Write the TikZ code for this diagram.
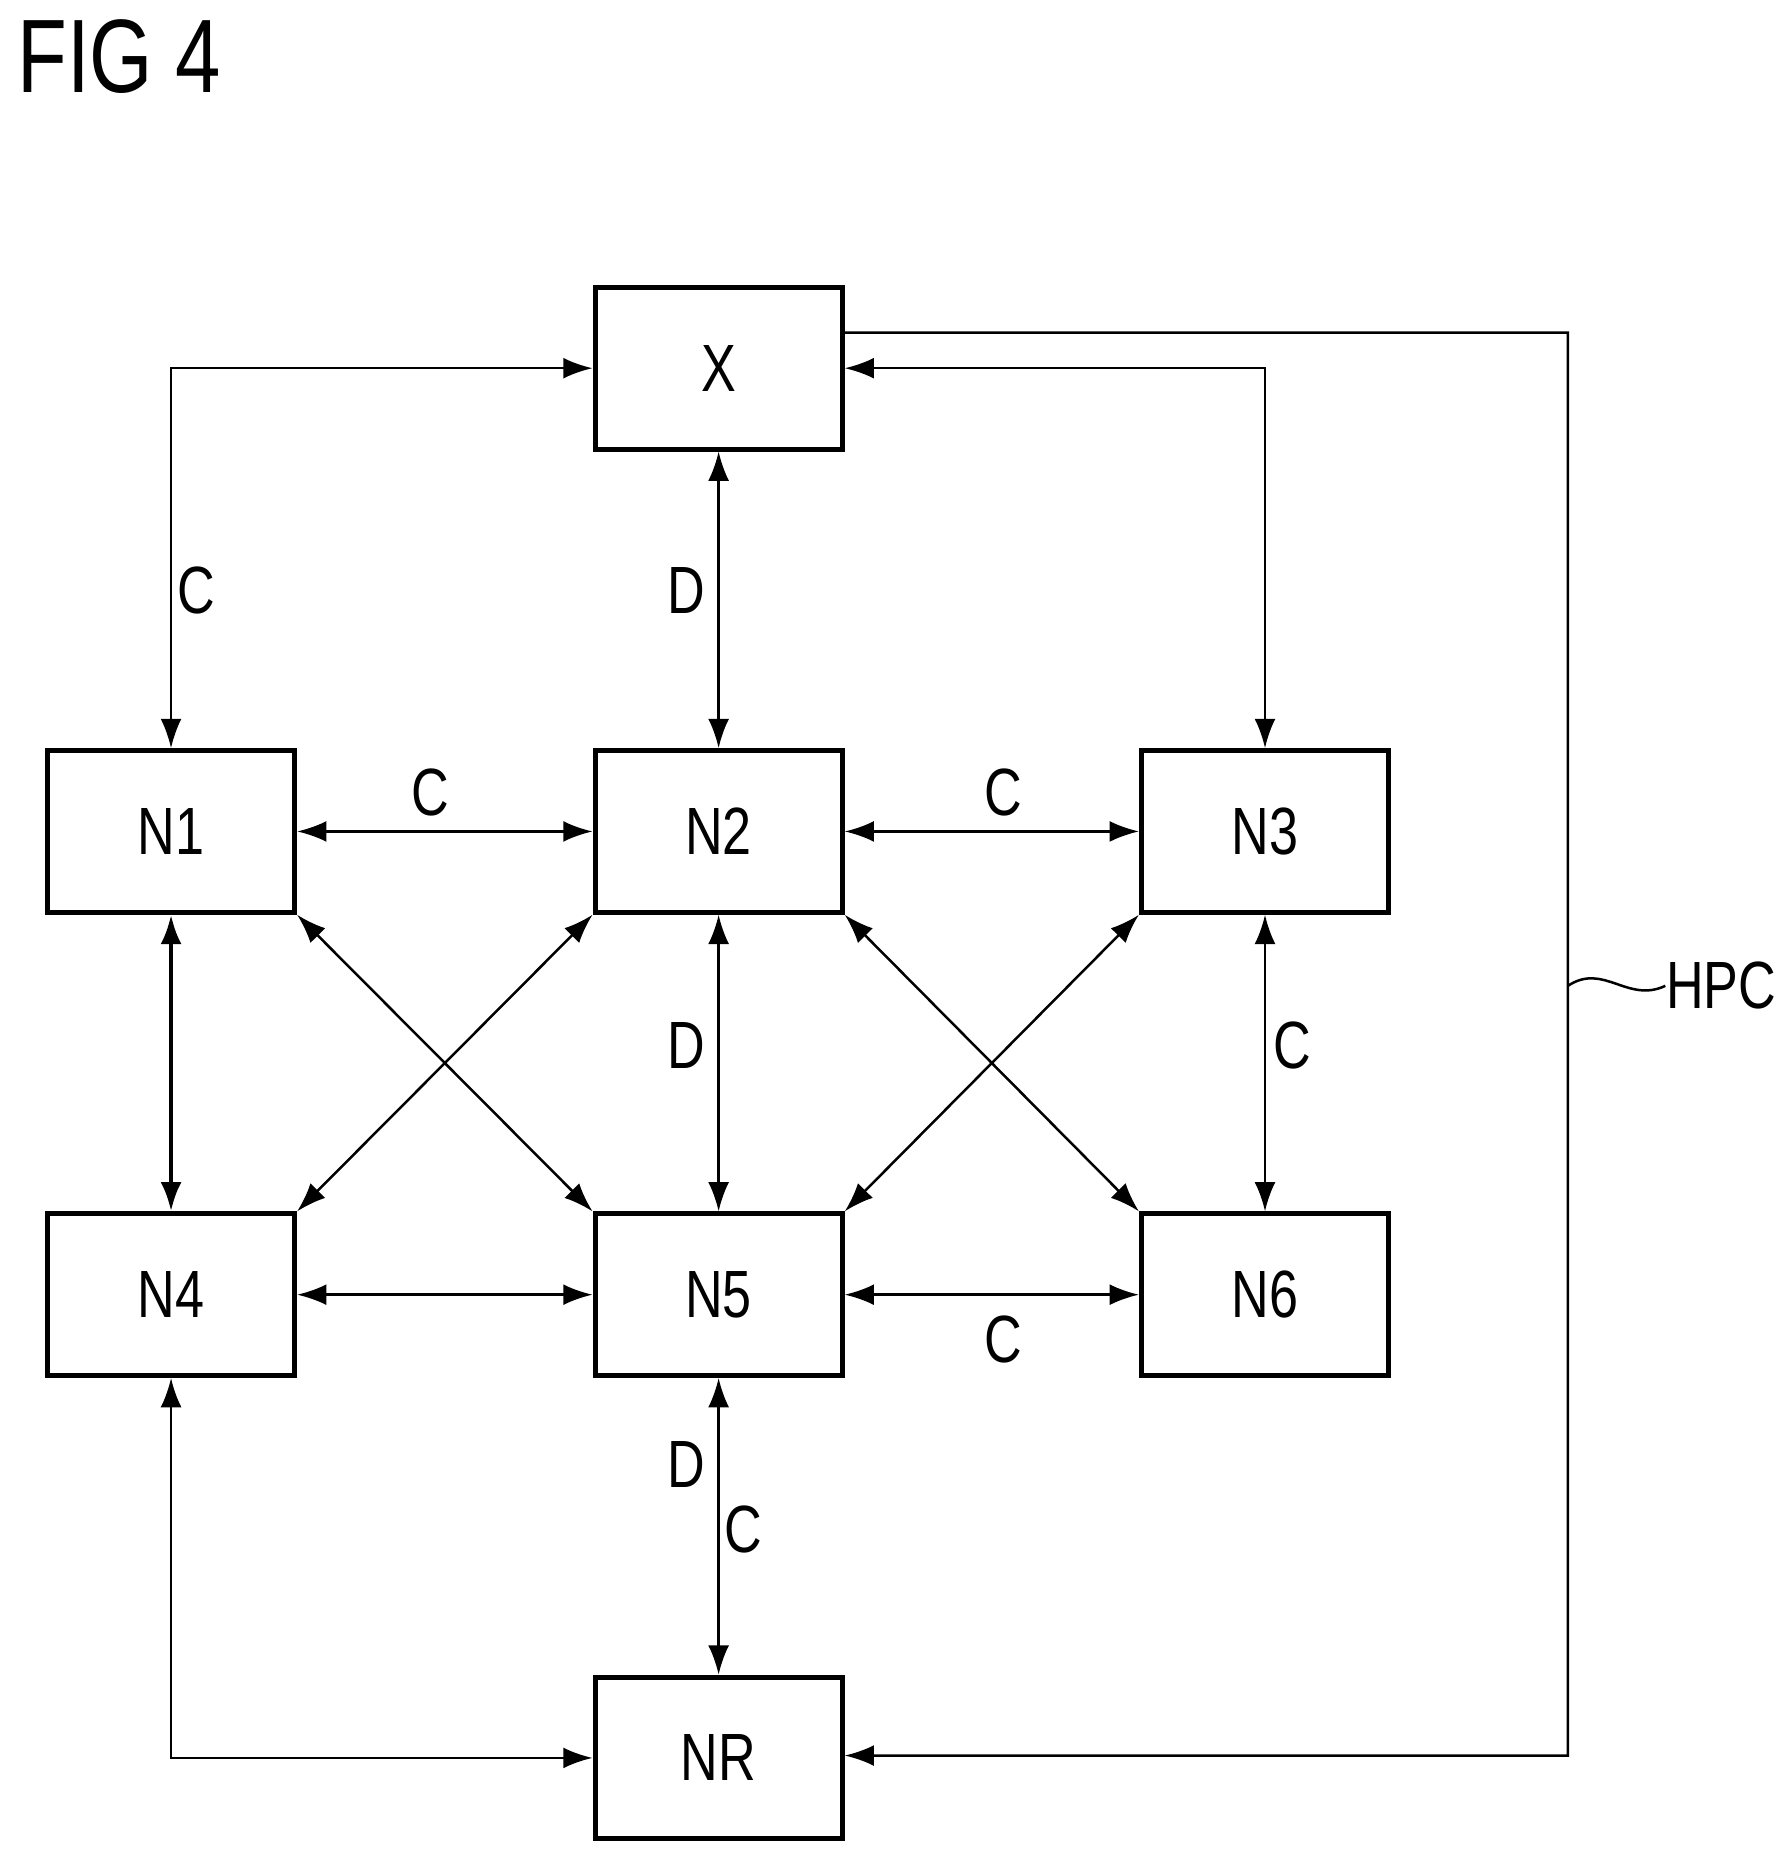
\documentclass[tikz,border=0pt]{standalone}
\usepackage{fontspec}
\setmainfont{Liberation Sans}[FakeStretch=0.78]
\usetikzlibrary{arrows.meta,decorations.pathmorphing}
\begin{document}
\begin{tikzpicture}[x=0.01cm,y=-0.01cm,
	box/.style={draw, line width=1.2pt, minimum width=2.08cm, minimum height=1.36cm, font=\fontsize{16}{20}\selectfont},
	link/.style={{Latex[length=7pt,width=5pt]}-{Latex[length=7pt,width=5pt]}, line width=0.6pt},
	lbl/.style={font=\fontsize{16}{20}\selectfont}]
	\useasboundingbox (0,0) rectangle (1500,1571);
	\node[font=\fontsize{25}{30}\selectfont, anchor=west, inner sep=0pt] at (14,48) {FIG 4};

	\node[box] (X) at (605,310) {X};
	\node[box] (N1) at (144,700) {N1};
	\node[box] (N2) at (605,700) {N2};
	\node[box] (N3) at (1065,700) {N3};
	\node[box] (N4) at (144,1090) {N4};
	\node[box] (N5) at (605,1090) {N5};
	\node[box] (N6) at (1065,1090) {N6};
	\node[box] (NR) at (605,1480) {NR};

	%top links
	\draw[link] (N1.north) |- (X.west);
	\draw[link] (X.east) -| (N3.north);
	\draw[link] (X.south) -- (N2.north);
	\draw[-{Latex[length=7pt,width=5pt]}, line width=0.6pt] ([yshift=0.3cm]X.east) -| (1320,1478) -- ([yshift=0.02cm]NR.east);

	%grid
	\draw[link] (N1) -- (N2);
	\draw[link] (N2) -- (N3);
	\draw[link] (N4) -- (N5);
	\draw[link] (N5) -- (N6);
	\draw[link, line width=1pt] (N1) -- (N4);
	\draw[link] (N2) -- (N5);
	\draw[link] (N3) -- (N6);
	\draw[link] (N1.south east) -- (N5.north west);
	\draw[link] (N2.south west) -- (N4.north east);
	\draw[link] (N2.south east) -- (N6.north west);
	\draw[link] (N3.south west) -- (N5.north east);

	%bottom links
	\draw[link] (N5) -- (NR);
	\draw[link] (N4.south) |- (NR.west);

	%labels
	\node[lbl] at (165,497) {C};
	\node[lbl] at (578,497) {D};
	\node[lbl] at (362,667) {C};
	\node[lbl] at (845,667) {C};
	\node[lbl] at (578,880) {D};
	\node[lbl] at (1088,880) {C};
	\node[lbl] at (845,1128) {C};
	\node[lbl] at (578,1233) {D};
	\node[lbl] at (626,1288) {C};
	\draw[line width=0.6pt] (1320,830) .. controls (1350,810) and (1370,845) .. (1402,830);
	\node[lbl, anchor=west, inner sep=0pt] at (1402,830) {HPC};
\end{tikzpicture}
\end{document}
